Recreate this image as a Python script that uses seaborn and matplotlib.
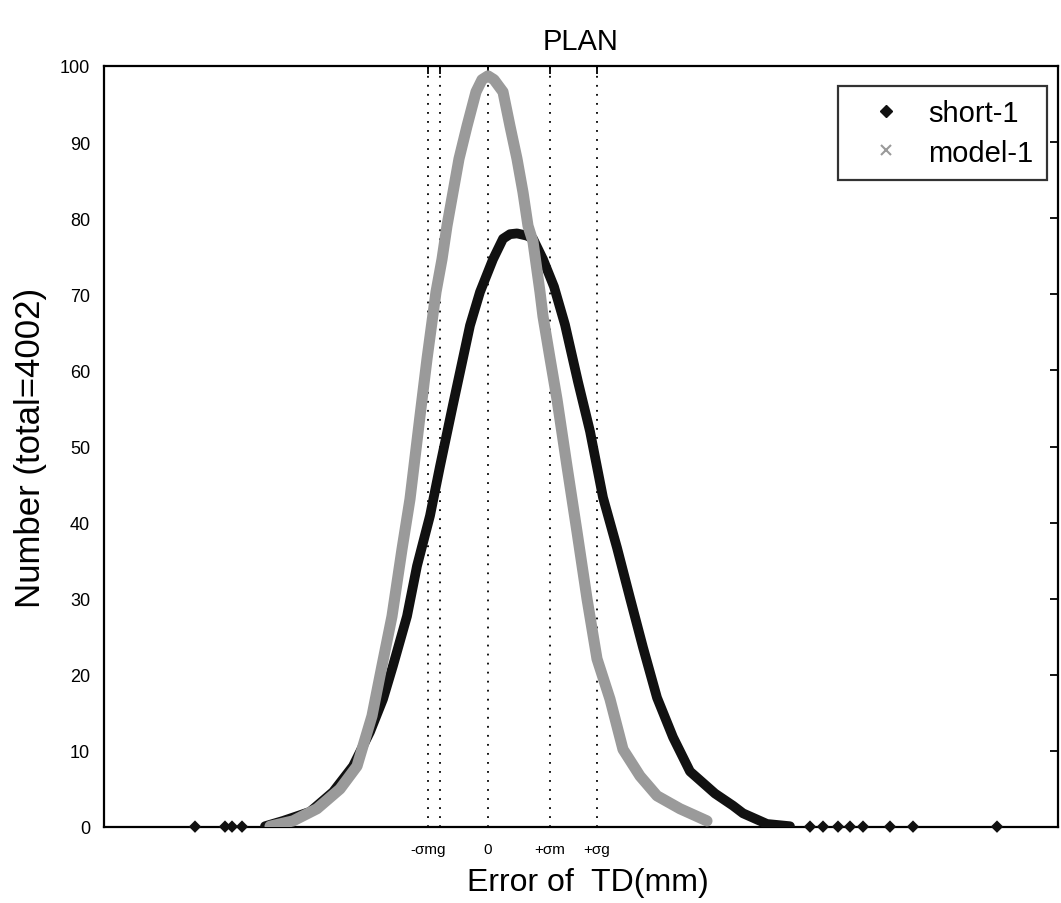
import numpy as np
import pandas as pd
import matplotlib
matplotlib.use("Agg")
import matplotlib.pyplot as plt
import seaborn as sns
from matplotlib.lines import Line2D

# ---------------- data ----------------
short_x = [-2.23, -2.05, -1.78, -1.55, -1.35, -1.18, -1.05, -0.95, -0.81, -0.71,
           -0.58, -0.48, -0.35, -0.26, -0.18, -0.08, 0.05, 0.15, 0.22, 0.29,
           0.39, 0.45, 0.55, 0.66, 0.77, 0.90, 1.02, 1.15, 1.29, 1.42,
           1.55, 1.69, 1.85, 2.02, 2.27, 2.45, 2.55, 2.79, 3.02]
short_y = [0.1, 0.8, 2.0, 4.6, 8.0, 12.5, 16.8, 21.2, 27.7, 34.3,
           40.9, 47.4, 55.5, 61.0, 65.9, 70.3, 74.6, 77.3, 77.9, 78.0,
           77.7, 77.3, 74.6, 71.0, 66.0, 58.5, 52.0, 43.3, 36.7, 30.1,
           23.6, 17.0, 11.8, 7.3, 4.4, 2.8, 1.8, 0.4, 0.1]
short_tail_x = [-2.93, -2.63, -2.56, -2.46, 3.22, 3.35, 3.50, 3.62, 3.75, 4.02, 4.25, 5.09]
short_tail_y = [0.05, 0.05, 0.05, 0.05, 0.05, 0.05, 0.05, 0.05, 0.05, 0.05, 0.05, 0.05]

model_x = [-2.18, -1.95, -1.71, -1.48, -1.31, -1.16, -1.06, -0.96, -0.86, -0.78,
           -0.68, -0.61, -0.52, -0.46, -0.41, -0.35, -0.29, -0.21, -0.12, -0.06,
           0.00, 0.06, 0.15, 0.22, 0.29, 0.35, 0.40, 0.45, 0.52, 0.55,
           0.62, 0.69, 0.79, 0.89, 0.99, 1.09, 1.22, 1.35, 1.52, 1.69,
           1.92, 2.19]
model_y = [0.1, 0.8, 2.4, 5.0, 8.0, 14.6, 21.2, 27.7, 36.5, 43.1,
           54.0, 61.5, 70.3, 74.6, 79.0, 83.4, 87.8, 92.1, 96.6, 98.2,
           98.7, 98.2, 96.6, 92.1, 87.8, 83.4, 79.0, 76.9, 70.3, 67.1,
           61.6, 56.2, 47.4, 38.8, 30.0, 22.1, 16.8, 10.2, 6.7, 4.1,
           2.4, 0.8]

sigma_pos = [-0.60, -0.48, 0.0, 0.62, 1.09]
sigma_labels = ["-σmg", "", "0", "+σm", "+σg"]
y_ticks = [0, 10, 20, 30, 40, 50, 60, 70, 80, 90, 100]
series_names = ["short-1", "model-1"]

# ---------------- style ----------------
sns.set_style("white")
plt.rcParams["font.family"] = ["Liberation Sans", "DejaVu Sans"]
plt.rcParams["text.color"] = "black"
plt.rcParams["axes.labelcolor"] = "black"
plt.rcParams["xtick.color"] = "black"
plt.rcParams["ytick.color"] = "black"

fig = plt.figure(figsize=(10.61, 9.04), dpi=100)
ax = fig.add_axes([104 / 1061, 76 / 904, 954 / 1061, 761 / 904])

short_df = pd.DataFrame({"x": short_x, "y": short_y})
model_df = pd.DataFrame({"x": model_x, "y": model_y})
tail_df = pd.DataFrame({"x": short_tail_x, "y": short_tail_y})

# dotted sigma lines
for p in sigma_pos:
    ax.axvline(p, color="black", lw=1.3, linestyle=(0, (1, 4)), zorder=1)

sns.lineplot(data=short_df, x="x", y="y", ax=ax, color="#111111", lw=7,
             sort=False, solid_joinstyle="round", solid_capstyle="round", zorder=3)
sns.scatterplot(data=tail_df, x="x", y="y", ax=ax, color="#111111", marker="D",
                s=40, edgecolor="none", zorder=3, clip_on=False)
sns.lineplot(data=model_df, x="x", y="y", ax=ax, color="#9a9a9a", lw=8,
             sort=False, solid_joinstyle="round", solid_capstyle="round", zorder=4)

ax.set_xlim(-3.84, 5.70)
ax.set_ylim(0, 100)
ax.set_yticks(y_ticks)
ax.set_yticklabels([str(v) for v in y_ticks], fontsize=13)
ax.set_xticks(sigma_pos)
ax.set_xticklabels(sigma_labels, fontsize=11)
ax.tick_params(axis="both", direction="in", top=True, right=True, length=6,
               width=1.3, colors="black")
ax.tick_params(axis="y", pad=10)
ax.tick_params(axis="x", pad=11)

for s in ax.spines.values():
    s.set_visible(True)
    s.set_color("black")
    s.set_linewidth(1.6)

ax.set_title("PLAN", fontsize=21, pad=12, color="black")
ax.set_xlabel("Error of  TD(mm)", fontsize=23)
ax.set_ylabel("Number (total=4002)", fontsize=25)
ax.xaxis.set_label_coords(0.507, -0.053)
ax.yaxis.set_label_coords(-0.060, 0.5)

handles = [
    Line2D([], [], marker="D", color="#111111", linestyle="none", markersize=6),
    Line2D([], [], marker="x", color="#9a9a9a", linestyle="none", markersize=7, mew=1.5),
]
leg = ax.legend(handles, series_names, loc="upper right",
                bbox_to_anchor=(0.988, 0.974), fontsize=21, frameon=True,
                fancybox=False, edgecolor="black", borderaxespad=0,
                handletextpad=0.24, labelspacing=0.4, borderpad=0.45,
                handlelength=2.4)
leg.get_frame().set_linewidth(1.6)
leg.set_zorder(10)

fig.savefig("out.png", dpi=100, facecolor="white")
